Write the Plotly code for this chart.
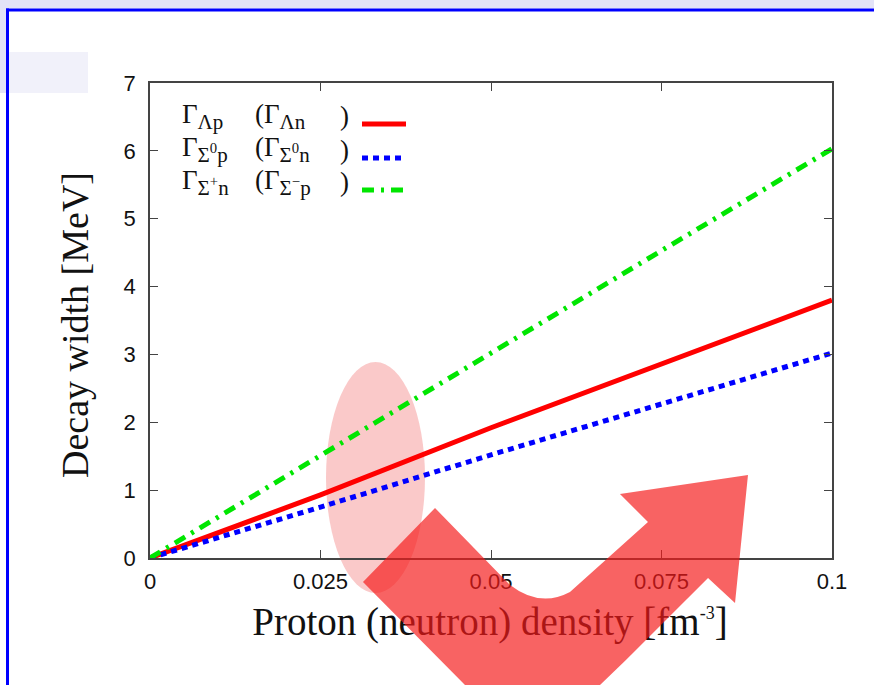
import plotly.graph_objects as go

# ---- data ----
density = [0.0, 0.025, 0.05, 0.075, 0.1]
gamma_lambda = [0.0, 0.93, 1.92, 2.86, 3.80]
gamma_sigma0 = [0.0, 0.75, 1.52, 2.27, 3.02]
gamma_sigmapm = [0.0, 1.50, 3.02, 4.53, 6.03]
x_ticks = [0.0, 0.025, 0.05, 0.075, 0.1]
x_ticktext = ["0", "0.025", "0.05", "0.075", "0.1"]
y_ticks = [0, 1, 2, 3, 4, 5, 6, 7]
x_title = "Proton (neutron) density [fm<sup><span style='font-size:18px'>-3</span></sup>]"
y_title = "Decay width [MeV]"


def sub(s):
    return f"<sub><span style='font-size:21px'>{s}</span></sub>"


legend_first = ["Γ" + sub("Λp"), "Γ" + sub("Σ<sup>0</sup>p"), "Γ" + sub("Σ<sup>+</sup>n")]
legend_second = ["(Γ" + sub("Λn"), "(Γ" + sub("Σ<sup>0</sup>n"), "(Γ" + sub("Σ<sup>−</sup>p")]
colors = ["#ff0000", "#0000ff", "#00e600"]
dashes = ["solid", "6px,5px", "12px,7px,3px,7px"]

W, H = 874, 685
L, R, T, B = 150, 832, 83, 558


def px(x):
    return (x - L) / (R - L)


def py(y):
    return (B - y) / (B - T)


fig = go.Figure()
series = [gamma_lambda, gamma_sigma0, gamma_sigmapm]
for vals, c, d in zip(series, colors, dashes):
    fig.add_trace(go.Scatter(x=density, y=vals, mode="lines",
                             line=dict(color=c, width=5, dash=d),
                             showlegend=False, hoverinfo="skip"))
# empty trace so the overlay axis carrying the x title is drawn
fig.add_trace(go.Scatter(x=[], y=[], xaxis="x2", yaxis="y",
                         showlegend=False, hoverinfo="skip"))

shapes = []
LAV = "#e3e3f7"


def rect(x0, x1, y0, y1, color, layer="below"):
    return dict(type="rect", xref="paper", yref="paper",
                x0=px(x0), x1=px(x1), y0=py(y0), y1=py(y1),
                fillcolor=color, line=dict(width=0), layer=layer)


shapes.append(rect(0, 874, 0, 8.5, LAV))
shapes.append(rect(0, 6, 0, 93, LAV))
shapes.append(rect(9, 88, 52, 93, "#f1f1fa"))
shapes.append(rect(6, 874, 8.5, 11.5, "#0000ff"))
shapes.append(rect(6, 9, 8.5, 685, "#0000ff"))
shapes.append(dict(type="circle", xref="paper", yref="paper",
                   x0=px(326), x1=px(425), y0=py(362), y1=py(593),
                   fillcolor="rgba(240,90,90,0.33)", line=dict(width=0),
                   layer="below"))


def P(x, y):
    return f"{px(x):.4f},{py(y):.4f}"


arrow = ("M " + P(363, 582) + " L " + P(435, 508) + " L " + P(510, 585)
         + " Q " + P(540, 608) + " " + P(570, 592)
         + " L " + P(648, 522) + " L " + P(620, 494) + " L " + P(748, 475)
         + " L " + P(735, 603) + " L " + P(708, 578) + " L " + P(626, 660)
         + " L " + P(600, 685) + " L " + P(465, 685) + " Z")
shapes.append(dict(type="path", xref="paper", yref="paper", path=arrow,
                   fillcolor="rgba(245,25,25,0.68)", line=dict(width=0),
                   layer="above"))

leg_y = [124, 158, 190]
for yy, c, d in zip(leg_y, colors, dashes):
    shapes.append(dict(type="line", xref="paper", yref="paper",
                       x0=px(362), x1=px(406), y0=py(yy), y1=py(yy),
                       line=dict(color=c, width=5, dash=d), layer="above"))

LF = dict(family="Liberation Serif", size=27, color="#111")
annotations = []
for yy, t1, t2 in zip(leg_y, legend_first, legend_second):
    for xx, txt in ((180, t1), (253, t2), (338, ")")):
        annotations.append(dict(xref="paper", yref="paper", x=px(xx), y=py(yy - 8),
                                xanchor="left", yanchor="middle", text=txt,
                                showarrow=False, font=LF))
annotations.append(dict(xref="paper", yref="paper", x=px(75), y=py(325),
                        xanchor="center", yanchor="middle", textangle=-90,
                        text=y_title, showarrow=False,
                        font=dict(family="Liberation Serif", size=38, color="#111")))

axis_common = dict(showgrid=False, zeroline=False, showline=True,
                   linecolor="#444", linewidth=1.5, mirror="ticks",
                   ticks="inside", ticklen=8, tickwidth=1.2, tickcolor="#444",
                   tickfont=dict(family="Liberation Sans", size=22, color="#111"))

fig.update_layout(
    width=W, height=H,
    margin=dict(l=L, r=W - R, t=T, b=H - B, pad=0),
    paper_bgcolor="white",
    plot_bgcolor="rgba(0,0,0,0)",
    shapes=shapes, annotations=annotations,
    xaxis=dict(range=[0, 0.1], tickvals=x_ticks, ticktext=x_ticktext,
               ticklabelstandoff=3, **axis_common),
    xaxis2=dict(range=[0, 1], overlaying="x", anchor="y", side="bottom",
                tickvals=[0.4985], ticktext=[x_title], ticks="",
                showline=False, showgrid=False, zeroline=False,
                ticklabelstandoff=37,
                tickfont=dict(family="Liberation Serif", size=39, color="#111")),
    yaxis=dict(range=[0, 7], tickvals=y_ticks, ticklabelstandoff=8,
               **axis_common),
)

fig.write_html("out.html")
